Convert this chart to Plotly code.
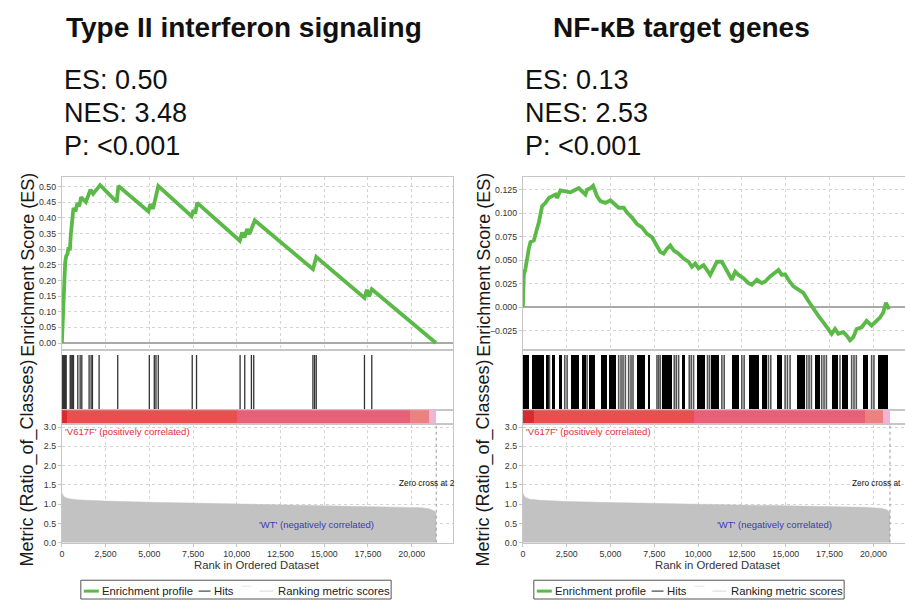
import plotly.graph_objects as go

W, H = 905, 605

# ---------------- Left panel: Type II interferon signaling ----------------
ifn_title = "Type II interferon signaling"
ifn_stats = ["ES: 0.50", "NES: 3.48", "P: <0.001"]
ifn_es_rank = [0, 57, 133, 190, 247, 323, 380, 456, 513, 589, 665, 779, 893, 988, 1103,
               1369, 1521, 1635, 1787, 2186, 3137, 3232, 4943, 5057, 5209, 5513, 7414,
               7528, 7623, 7737, 10170, 10303, 10436, 10589, 10722, 11026, 14353, 14543,
               17299, 17432, 17565, 17717, 21386]
ifn_es = [0.000, 0.102, 0.206, 0.259, 0.278, 0.285, 0.306, 0.296, 0.348, 0.385, 0.432,
          0.421, 0.448, 0.437, 0.466, 0.451, 0.474, 0.490, 0.477, 0.505, 0.451, 0.502,
          0.421, 0.444, 0.429, 0.502, 0.406, 0.425, 0.414, 0.448, 0.327, 0.353, 0.338,
          0.364, 0.348, 0.392, 0.236, 0.275, 0.144, 0.170, 0.149, 0.172, 0.000]
ifn_hits = [20, 57, 100, 152, 200, 247, 475, 520, 570, 620, 665, 912, 1045, 1140, 1558,
            1672, 1748, 2128, 3193, 5000, 5284, 5379, 5512, 7452, 7698, 10188, 10454,
            10835, 10968, 14351, 14446, 14541, 17298, 17716]
ifn_metric_rank = [0, 50, 150, 400, 1000, 2500, 5000, 7500, 10000, 12500, 15000, 17500,
                   19500, 20500, 21000, 21300, 21400]
ifn_metric = [1.30, 1.24, 1.18, 1.14, 1.11, 1.08, 1.05, 1.03, 1.01, 0.99, 0.97, 0.95,
              0.93, 0.91, 0.88, 0.82, 0.76]
ifn_zero_cross = 21400
ifn_bar_start = [0, 280, 10000, 19900, 20985]
ifn_bar_end = [280, 10000, 19900, 20985, 21400]

# ---------------- Right panel: NF-kB target genes ----------------
nf_title = "NF-κB target genes"
nf_stats = ["ES: 0.13", "NES: 2.53", "P: <0.001"]
nf_es_rank = [0, 57, 152, 247, 342, 437, 627, 779, 912, 1101, 1291, 1481, 1671, 1861, 1956,
              2146, 2431, 2716, 3000, 3190, 3380, 3570, 3665, 3855, 4007, 4235, 4425, 4710,
              4994, 5184, 5469, 5754, 5944, 6229, 6514, 6798, 7083, 7368, 7558, 7843, 8033,
              8223, 8413, 8602, 8887, 9172, 9457, 9647, 9837, 10027, 10312, 10501, 10691,
              10881, 11071, 11356, 11546, 11736, 11926, 12116, 12306, 12590, 12875, 13065,
              13350, 13635, 13825, 14110, 14394, 14584, 14774, 14964, 15154, 15439, 15724,
              16009, 16293, 16578, 16863, 17148, 17433, 17623, 17813, 18003, 18287, 18477,
              18667, 18857, 19047, 19332, 19617, 19902, 20091, 20376, 20566, 20718, 20851,
              20946]
nf_es = [0.0, 0.0342, 0.0412, 0.0552, 0.0622, 0.0691, 0.0709, 0.0814, 0.0901, 0.1075,
         0.1110, 0.1163, 0.1180, 0.1198, 0.1163, 0.1243, 0.1233, 0.1222, 0.1250, 0.1267,
         0.1233, 0.1198, 0.1250, 0.1267, 0.1292, 0.1180, 0.1128, 0.1110, 0.1138, 0.1110,
         0.1058, 0.1058, 0.1006, 0.0953, 0.0883, 0.0848, 0.0779, 0.0744, 0.0674, 0.0587,
         0.0569, 0.0622, 0.0656, 0.0604, 0.0569, 0.0517, 0.0482, 0.0429, 0.0464, 0.0412,
         0.0447, 0.0395, 0.0342, 0.0412, 0.0482, 0.0482, 0.0412, 0.0342, 0.0290, 0.0377,
         0.0342, 0.0307, 0.0255, 0.0237, 0.0290, 0.0255, 0.0272, 0.0325, 0.0360, 0.0395,
         0.0342, 0.0349, 0.0290, 0.0220, 0.0185, 0.0150, 0.0063, -0.0024, -0.0094, -0.0164,
         -0.0234, -0.0286, -0.0234, -0.0286, -0.0269, -0.0304, -0.0356, -0.0321, -0.0234,
         -0.0216, -0.0147, -0.0199, -0.0164, -0.0112, -0.0059, 0.0045, -0.0007, 0.0]
nf_hit_block_start = [0, 532, 1291, 1671, 2051, 2715, 3380, 3760, 4425, 4899, 6513, 7140,
                      7938, 9077, 9932, 10748, 11926, 12875, 13635, 14490, 15629, 16673,
                      17623, 18192, 19427, 20281]
nf_hit_block_end = [342, 1196, 1481, 1823, 2241, 3190, 3570, 4102, 4804, 5279, 6988, 7273,
                    8507, 9267, 10406, 11166, 12305, 13445, 13920, 14774, 16103, 16958,
                    18002, 18572, 19712, 20851]
nf_hits_single = [1519, 2393, 2526, 3665, 5469, 5602, 5716, 5849, 6039, 6172, 6286, 7653,
                  7748, 7843, 8640, 8754, 8887, 9495, 9609, 9742, 10539, 10653, 11356,
                  11489, 12495, 12628, 14014, 14147, 14964, 15097, 15249, 16198, 16331,
                  16464, 17053, 17186, 17319, 18097, 18762, 18895, 19028, 19901, 20034]
nf_metric_rank = [0, 50, 150, 400, 1000, 2500, 5000, 7500, 10000, 12500, 15000, 17500,
                  19500, 20500, 20800, 20950]
nf_metric = [1.30, 1.23, 1.17, 1.13, 1.10, 1.07, 1.04, 1.02, 1.00, 0.98, 0.96, 0.94,
             0.92, 0.89, 0.85, 0.78]
nf_zero_cross = 20950
nf_bar_start = [0, 600, 9740, 19530, 20570]
nf_bar_end = [600, 9740, 19530, 20570, 20950]

bar_colors = ["#d62c30", "#e84f4f", "#ea5f78", "#ef8080", "#f2b4d6"]

# ---------------- styling ----------------
FONT = "Liberation Sans, Arial, sans-serif"
GREEN = "#5bb947"
GRID = "#d4d4d4"
LINE = "#c6c6c6"
TICKFONT = dict(family=FONT, size=8.8, color="#333333")


def px(x):
    return x / W


def py(y):
    return 1 - y / H


fig = go.Figure()

panels = [
    dict(n=0, es_r=ifn_es_rank, es=ifn_es, hits=ifn_hits, blocks=None,
         m_r=ifn_metric_rank, m=ifn_metric, zc=ifn_zero_cross,
         bs=ifn_bar_start, be=ifn_bar_end),
    dict(n=4, es_r=nf_es_rank, es=nf_es, hits=nf_hits_single,
         blocks=(nf_hit_block_start, nf_hit_block_end),
         m_r=nf_metric_rank, m=nf_metric, zc=nf_zero_cross,
         bs=nf_bar_start, be=nf_bar_end),
]


def ax(i):
    return ("x" if i == 1 else f"x{i}"), ("y" if i == 1 else f"y{i}")


for p in panels:
    n = p["n"]
    xes, yes = ax(n + 1)
    xh, yh = ax(n + 2)
    xr, yr = ax(n + 3)
    xm, ym = ax(n + 4)
    # ES curve
    fig.add_trace(go.Scatter(x=p["es_r"], y=p["es"], mode="lines",
                             line=dict(color=GREEN, width=3.8), xaxis=xes, yaxis=yes,
                             showlegend=False, hoverinfo="skip"))
    # hit blocks
    if p["blocks"] is not None:
        s, e = p["blocks"]
        fig.add_trace(go.Bar(x=[(a + b) / 2 for a, b in zip(s, e)],
                             y=[0.933] * len(s), width=[b - a for a, b in zip(s, e)],
                             marker=dict(color="#000000", line=dict(width=0)),
                             xaxis=xh, yaxis=yh, showlegend=False, hoverinfo="skip"))
        hit_col, hit_w = "#555555", 1.6
    else:
        hit_col, hit_w = "#333333", 1.3
    hx, hy = [], []
    for h in p["hits"]:
        hx += [h, h, None]
        hy += [0, 0.933, None]
    fig.add_trace(go.Scatter(x=hx, y=hy, mode="lines",
                             line=dict(color=hit_col, width=hit_w),
                             xaxis=xh, yaxis=yh, showlegend=False, hoverinfo="skip"))
    # rank colour bar
    fig.add_trace(go.Bar(x=[(a + b) / 2 for a, b in zip(p["bs"], p["be"])],
                         y=[1] * len(p["bs"]),
                         width=[b - a for a, b in zip(p["bs"], p["be"])],
                         marker=dict(color=bar_colors, line=dict(width=0)),
                         xaxis=xr, yaxis=yr, showlegend=False, hoverinfo="skip"))
    # metric area
    fig.add_trace(go.Scatter(x=p["m_r"], y=p["m"], mode="lines", fill="tozeroy",
                             line=dict(color="#c2c2c2", width=0.5),
                             fillcolor="#c2c2c2", xaxis=xm, yaxis=ym,
                             showlegend=False, hoverinfo="skip"))
    # zero cross
    fig.add_trace(go.Scatter(x=[p["zc"], p["zc"]], y=[0, 3.08], mode="lines",
                             line=dict(color="#9a9a9a", width=1, dash="dot"),
                             xaxis=xm, yaxis=ym, showlegend=False, hoverinfo="skip"))

layout = dict(width=W, height=H, margin=dict(l=0, r=0, t=0, b=0),
              paper_bgcolor="white", plot_bgcolor="white", bargap=0,
              font=dict(family=FONT, color="#222"))

y_dom = {
    "es": [py(351), py(177)],
    "hits": [py(413), py(353)],
    "red": [py(427), py(413)],
    "met": [py(547), py(427)],
}
x_doms = [[px(60), px(452)], [px(522), 1.0]]
x_ranges = [[0, 22359], [0, 21806]]
es_ranges = [[-0.019, 0.531], [-0.0447, 0.1386]]
es_dticks = [0.05, 0.025]
es_fmt = [".2f", ".3f"]
mirror = [True, False]

for k in range(2):
    base = k * 4
    for j, key in enumerate(["es", "hits", "red", "met"]):
        i = base + j + 1
        xname = "xaxis" if i == 1 else f"xaxis{i}"
        yname = "yaxis" if i == 1 else f"yaxis{i}"
        xa, ya = ax(i)
        is_met = key == "met"
        grid = key in ("es", "met")
        layout[xname] = dict(domain=x_doms[k], range=x_ranges[k], anchor=ya,
                             showgrid=grid, gridcolor=GRID, griddash="dot", gridwidth=1,
                             tick0=0, dtick=2500, tickformat=",d",
                             showticklabels=is_met, ticks="outside" if is_met else "",
                             ticklen=3, tickcolor=LINE, tickfont=TICKFONT,
                             showline=True, linecolor=LINE, linewidth=1, mirror=True,
                             zeroline=False, fixedrange=True)
        ydict = dict(domain=y_dom[key], anchor=xa, showline=True, linecolor=LINE,
                     linewidth=1, mirror=mirror[k], fixedrange=True, tickfont=TICKFONT)
        if key == "es":
            ydict.update(range=es_ranges[k], dtick=es_dticks[k], tick0=0,
                         tickformat=es_fmt[k], showgrid=True, gridcolor=GRID,
                         griddash="dot", zeroline=True, zerolinecolor="#a9a9a9",
                         zerolinewidth=1.6, ticks="outside", ticklen=3, tickcolor=LINE)
        elif key == "met":
            ydict.update(range=[0, 3.08], dtick=0.5, tick0=0, tickformat=".1f",
                         showgrid=True, gridcolor=GRID, griddash="dot", zeroline=False,
                         ticks="outside", ticklen=3, tickcolor=LINE)
        else:
            ydict.update(range=[0, 1], showgrid=False, zeroline=False,
                         showticklabels=False, ticks="")
        layout[yname] = ydict

fig.update_layout(**layout)

ann = []
shapes = []


def text(x, y, t, size, color="#111", xanchor="left", yanchor="middle", bold=False,
         angle=0):
    ann.append(dict(x=px(x), y=py(y), xref="paper", yref="paper", text=t,
                    showarrow=False, xanchor=xanchor, yanchor=yanchor,
                    textangle=angle,
                    font=dict(family=FONT, size=size, color=color,
                              weight="bold" if bold else "normal")))


titles = [ifn_title, nf_title]
stats = [ifn_stats, nf_stats]
title_x = [62, 550]
stat_x = [60, 522]
for k in range(2):
    text(title_x[k], 26, titles[k], 28, color="#111", bold=True)
    for j, s in enumerate(stats[k]):
        text(stat_x[k], 79 + 33.5 * j, s, 27, color="#111")

ytitle_x = [26, 483]
for k in range(2):
    text(ytitle_x[k], 266, "Enrichment Score (ES)", 18, color="#1a1a1a",
         xanchor="center", angle=-90)
    text(ytitle_x[k], 466, "Metric (Ratio_of_Classes)", 18, color="#1a1a1a",
         xanchor="center", angle=-90)

off = [0, 462]
wt_x = [315, 774]
zc_text = ["Zero cross at 2", "Zero cross at"]
zc_x = [396, 850]
for k in range(2):
    o = off[k]
    text(stat_x[k] + 1, 435, "'V617F' (positively correlated)", 9.5, color="#e0303a")
    text(wt_x[k], 529, "'WT' (negatively correlated)", 9.5, color="#3a3ab8",
         xanchor="center")
    text(zc_x[k], 487, zc_text[k], 8.3, color="#111")
    text(256 + o, 570, "Rank in Ordered Dataset", 11.3, color="#333", xanchor="center")

# legends
leg_off = [0, 454]
for k in range(2):
    o = leg_off[k]
    shapes.append(dict(type="rect", xref="paper", yref="paper",
                       x0=px(79 + o), x1=px(390 + o), y0=py(604), y1=py(585),
                       line=dict(color="#555", width=1), fillcolor="white"))
    shapes.append(dict(type="line", xref="paper", yref="paper",
                       x0=px(82 + o), x1=px(97 + o), y0=py(596), y1=py(596),
                       line=dict(color=GREEN, width=3)))
    text(98 + o, 596, "Enrichment profile", 11.3, color="#222")
    shapes.append(dict(type="line", xref="paper", yref="paper",
                       x0=px(197 + o), x1=px(209 + o), y0=py(596), y1=py(596),
                       line=dict(color="#444", width=1.2)))
    text(210 + o, 596, "Hits", 11.3, color="#222")
    shapes.append(dict(type="line", xref="paper", yref="paper",
                       x0=px(240 + o), x1=px(250 + o), y0=py(591), y1=py(591),
                       line=dict(color="#e4e4e4", width=1)))
    shapes.append(dict(type="line", xref="paper", yref="paper",
                       x0=px(258 + o), x1=px(272 + o), y0=py(596), y1=py(596),
                       line=dict(color="#dddddd", width=1.2)))
    text(275 + o, 596, "Ranking metric scores", 11.3, color="#222")

fig.update_layout(annotations=ann, shapes=shapes)
fig.write_html("out.html", config={"displayModeBar": False},
               post_script="document.body.style.margin='0px';"
                           "document.body.style.overflow='hidden';")
